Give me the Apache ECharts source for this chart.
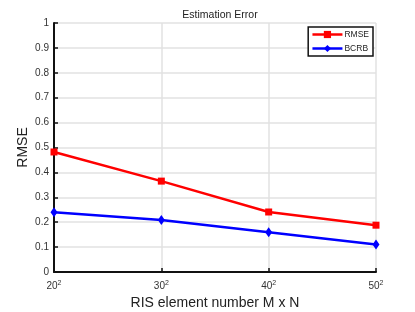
<!DOCTYPE html>
<html><head><meta charset="utf-8">
<script src="https://cdn.jsdelivr.net/npm/echarts@6/dist/echarts.min.js"></script>
<style>html,body{margin:0;padding:0;background:#fff}#c{width:415px;height:312px}</style>
</head><body><div id="c"></div>
<script>
const categories = ['20', '30', '40', '50'];
const rmse = [0.482, 0.365, 0.241, 0.188];
const bcrb = [0.240, 0.209, 0.160, 0.110];
const yTicks = [0, 0.1, 0.2, 0.3, 0.4, 0.5, 0.6, 0.7, 0.8, 0.9, 1];

const chart = echarts.init(document.getElementById('c'));
const font = 'Liberation Sans, Arial, sans-serif';
chart.setOption({
  animation: false,
  title: {
    text: 'Estimation Error', left: 215, top: 5, textAlign: 'center',
    textStyle: {fontSize: 10.5, fontWeight: 'normal', color: '#222', fontFamily: font}
  },
  legend: {
    right: 42, top: 27, orient: 'vertical', itemWidth: 30, itemHeight: 9, itemGap: 5,
    borderColor: '#111', borderWidth: 1.5, padding: [3, 4, 3, 3], backgroundColor: '#fff',
    lineStyle: {width: 2.5},
    textStyle: {fontSize: 8.5, color: '#222', fontFamily: font, padding: [0, 0, 0, -3]},
    data: ['RMSE', 'BCRB']
  },
  grid: {left: 54, right: 39, top: 23, bottom: 40, containLabel: false, outerBoundsMode: 'none'},
  xAxis: {
    type: 'category', data: categories, boundaryGap: false,
    name: 'RIS element number M x N', nameLocation: 'middle', nameGap: 24, nameMoveOverlap: false,
    nameTextStyle: {fontSize: 14, color: '#222', fontFamily: font},
    axisLine: {lineStyle: {color: '#111', width: 2}},
    axisTick: {inside: true, length: 4, lineStyle: {color: '#111', width: 1.5}},
    axisLabel: {
      margin: 8, color: '#333', fontFamily: font,
      formatter: v => '{b|' + v + '}{s|2}',
      rich: {b: {fontSize: 10, fontFamily: font, color: '#333'},
             s: {fontSize: 7, fontFamily: font, color: '#333', verticalAlign: 'top', padding: [0, 0, 6, 0]}}
    },
    splitLine: {show: true, lineStyle: {color: '#e2e2e2', width: 1.5}}
  },
  yAxis: {
    type: 'value', min: 0, max: 1, interval: 0.1,
    name: 'RMSE', nameLocation: 'middle', nameGap: 24, nameRotate: 90, nameMoveOverlap: false,
    nameTextStyle: {fontSize: 14, color: '#222', fontFamily: font},
    axisLine: {show: true, lineStyle: {color: '#111', width: 2}},
    axisTick: {show: true, inside: true, length: 4, lineStyle: {color: '#111', width: 1.5}},
    axisLabel: {fontSize: 10, color: '#333', fontFamily: font, margin: 5,
      formatter: v => { const t = yTicks.find(x => Math.abs(x - v) < 1e-9); return t === undefined ? '' : String(t); }},
    splitLine: {show: true, lineStyle: {color: '#e2e2e2', width: 1.5}}
  },
  series: [
    {name: 'RMSE', type: 'line', data: rmse, symbol: 'rect', symbolSize: 7,
     lineStyle: {color: '#ff0000', width: 2.5}, itemStyle: {color: '#ff0000'}, z: 3},
    {name: 'BCRB', type: 'line', data: bcrb, symbol: 'diamond', symbolSize: [7, 10],
     lineStyle: {color: '#0000ff', width: 2.5}, itemStyle: {color: '#0000ff'}, z: 3}
  ]
});
</script></body></html>
